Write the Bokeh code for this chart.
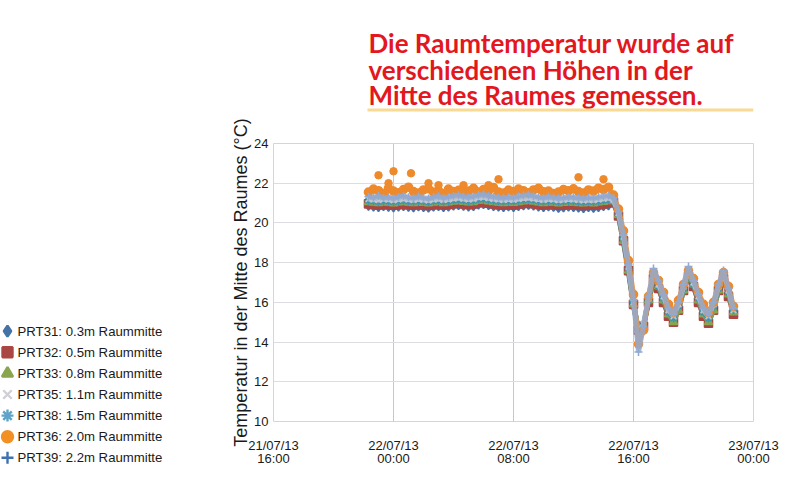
import pandas as pd
from bokeh.plotting import figure
from bokeh.layouts import column, row
from bokeh.models import Range1d, FixedTicker, ColumnDataSource
from bokeh.core.properties import value
from bokeh.embed import file_html
from bokeh.resources import INLINE

# ---------------- data ----------------
series_names = [
    "PRT31: 0.3m Raummitte",
    "PRT32: 0.5m Raummitte",
    "PRT33: 0.8m Raummitte",
    "PRT35: 1.1m Raummitte",
    "PRT38: 1.5m Raummitte",
    "PRT36: 2.0m Raummitte",
    "PRT39: 2.2m Raummitte",
]
series_markers = ["diamond", "square", "triangle", "x", "asterisk", "circle", "cross"]
legend_colors = ["#4572a7", "#aa4643", "#89a54e", "#cfcfd6", "#5ea3c9", "#f39024", "#3f70b0"]
plot_colors = ["#4572a7", "#aa4643", "#89a54e", "#c4c6d0", "#3d96ae", "#ee8a2c", "#93a9cf"]

# measurement times: every 20 minutes from 21/07/13 22:20 to 22/07/13 22:40
t_start = "2013-07-21 22:20"
t_count = 74
t_step = "20min"

prt31 = [20.84, 20.80, 20.77, 20.82, 20.79, 20.76, 20.80, 20.83, 20.79, 20.76,
         20.81, 20.78, 20.75, 20.80, 20.82, 20.77, 20.80, 20.85, 20.88, 20.84,
         20.80, 20.82, 20.90, 20.92, 20.87, 20.83, 20.80, 20.77, 20.81, 20.78,
         20.82, 20.86, 20.89, 20.85, 20.80, 20.77, 20.81, 20.79, 20.74, 20.76,
         20.80, 20.78, 20.75, 20.73, 20.77, 20.74, 20.78, 20.82, 20.86,
         21.00, 20.30, 19.00, 17.50, 15.80, 14.50, 14.80, 16.00, 17.20, 16.70,
         16.00, 15.40, 15.10, 15.70, 16.60, 17.30, 16.80, 16.00, 15.40, 15.10,
         15.70, 16.60, 17.20, 16.40, 15.50]
prt32 = [20.96, 20.93, 20.90, 20.94, 20.92, 20.89, 20.93, 20.95, 20.92, 20.90,
         20.94, 20.91, 20.88, 20.92, 20.95, 20.90, 20.93, 20.97, 21.00, 20.96,
         20.93, 20.95, 21.02, 21.04, 20.99, 20.95, 20.92, 20.90, 20.93, 20.91,
         20.95, 20.98, 21.01, 20.97, 20.93, 20.90, 20.94, 20.92, 20.89, 20.91,
         20.94, 20.92, 20.90, 20.88, 20.91, 20.89, 20.93, 20.96, 21.00,
         21.05, 20.35, 19.10, 17.60, 15.90, 14.60, 14.80, 16.00, 17.20, 16.70,
         16.00, 15.30, 15.00, 15.60, 16.60, 17.30, 16.80, 16.00, 15.30, 14.95,
         15.60, 16.60, 17.20, 16.30, 15.40]
prt33 = [21.05, 21.02, 21.00, 21.04, 21.02, 20.99, 21.03, 21.05, 21.02, 21.00,
         21.04, 21.01, 20.98, 21.02, 21.05, 21.00, 21.03, 21.07, 21.10, 21.06,
         21.03, 21.05, 21.12, 21.14, 21.09, 21.05, 21.02, 21.00, 21.03, 21.01,
         21.05, 21.08, 21.11, 21.07, 21.03, 21.00, 21.04, 21.02, 20.99, 21.01,
         21.04, 21.02, 21.00, 20.98, 21.01, 20.99, 21.03, 21.06, 21.10,
         21.10, 20.40, 19.10, 17.60, 15.90, 14.60, 14.80, 16.10, 17.30, 16.80,
         16.10, 15.40, 15.00, 15.60, 16.60, 17.40, 16.90, 16.10, 15.40, 15.00,
         15.60, 16.60, 17.30, 16.40, 15.50]
prt35 = [21.20, 21.17, 21.15, 21.19, 21.17, 21.14, 21.18, 21.21, 21.17, 21.15,
         21.19, 21.16, 21.13, 21.17, 21.20, 21.15, 21.18, 21.22, 21.25, 21.21,
         21.18, 21.20, 21.27, 21.29, 21.24, 21.20, 21.17, 21.15, 21.18, 21.16,
         21.20, 21.23, 21.26, 21.22, 21.18, 21.15, 21.19, 21.17, 21.14, 21.16,
         21.19, 21.17, 21.15, 21.13, 21.16, 21.14, 21.18, 21.21, 21.25,
         21.15, 20.50, 19.30, 17.80, 16.00, 14.40, 14.90, 16.20, 17.50, 16.90,
         16.30, 15.60, 15.30, 15.90, 16.80, 17.60, 17.00, 16.30, 15.60, 15.30,
         15.90, 16.80, 17.50, 16.60, 15.60]
prt38 = [21.12, 21.09, 21.07, 21.11, 21.09, 21.06, 21.10, 21.13, 21.09, 21.07,
         21.11, 21.08, 21.05, 21.09, 21.12, 21.07, 21.10, 21.14, 21.17, 21.13,
         21.10, 21.12, 21.19, 21.21, 21.16, 21.12, 21.09, 21.07, 21.10, 21.08,
         21.12, 21.15, 21.18, 21.14, 21.10, 21.07, 21.11, 21.09, 21.06, 21.08,
         21.11, 21.09, 21.07, 21.05, 21.08, 21.06, 21.10, 21.13, 21.17,
         21.10, 20.45, 19.20, 17.70, 16.00, 14.50, 14.90, 16.10, 17.40, 16.80,
         16.20, 15.50, 15.20, 15.80, 16.70, 17.50, 16.90, 16.20, 15.50, 15.20,
         15.80, 16.70, 17.40, 16.50, 15.60]
prt36 = [21.55, 21.70, 21.62, 21.48, 21.75, 21.60, 21.52, 21.68, 21.80, 21.58,
         21.50, 21.66, 21.72, 21.55, 21.62, 21.47, 21.70, 21.58, 21.64, 21.52,
         21.60, 21.74, 21.56, 21.68, 21.62, 21.78, 21.55, 21.50, 21.65, 21.58,
         21.70, 21.62, 21.52, 21.66, 21.74, 21.57, 21.60, 21.48, 21.55, 21.68,
         21.62, 21.72, 21.58, 21.50, 21.66, 21.60, 21.75, 21.68, 21.80,
         21.40, 20.70, 19.60, 18.10, 16.40, 13.90, 14.60, 16.30, 17.50, 17.10,
         16.50, 15.90, 15.50, 16.10, 16.90, 17.60, 17.20, 16.50, 15.90, 15.50,
         16.00, 16.90, 17.50, 16.80, 15.80]
prt39 = [21.32, 21.28, 21.35, 21.26, 21.30, 21.24, 21.31, 21.36, 21.29, 21.25,
         21.33, 21.27, 21.23, 21.30, 21.34, 21.26, 21.31, 21.37, 21.40, 21.33,
         21.29, 21.34, 21.41, 21.43, 21.36, 21.32, 21.28, 21.25, 21.31, 21.27,
         21.34, 21.38, 21.42, 21.35, 21.30, 21.26, 21.32, 21.28, 21.24, 21.27,
         21.31, 21.29, 21.26, 21.23, 21.28, 21.25, 21.30, 21.34, 21.38,
         21.25, 20.55, 19.40, 17.90, 16.10, 13.50, 14.80, 16.30, 17.70, 17.10,
         16.40, 15.70, 15.40, 16.00, 16.90, 17.80, 17.10, 16.40, 15.70, 15.40,
         16.00, 16.90, 17.60, 16.70, 15.70]

# single high readings of PRT36 (2.0m)
prt36_peak_times = ["2013-07-21 23:00", "2013-07-21 23:40", "2013-07-22 00:00",
                    "2013-07-22 01:10", "2013-07-22 02:20", "2013-07-22 03:00",
                    "2013-07-22 04:40", "2013-07-22 06:20", "2013-07-22 07:00",
                    "2013-07-22 12:20", "2013-07-22 14:00"]
prt36_peak_vals = [22.4, 22.0, 22.6, 22.5, 22.0, 21.9, 21.9, 21.9, 22.2, 22.3, 22.2]

x_ticks = ["2013-07-21 16:00", "2013-07-22 00:00", "2013-07-22 08:00",
           "2013-07-22 16:00", "2013-07-23 00:00"]
x_tick_labels = ["21/07/13\n16:00", "22/07/13\n00:00", "22/07/13\n08:00",
                 "22/07/13\n16:00", "23/07/13\n00:00"]
y_ticks = [10, 12, 14, 16, 18, 20, 22, 24]

title_lines = ["Die Raumtemperatur wurde auf",
               "verschiedenen Höhen in der",
               "Mitte des Raumes gemessen."]
y_label = "Temperatur in der Mitte des Raumes (°C)"

# ---------------- helpers ----------------
def ms(s):
    return int(pd.Timestamp(s).value // 10**6)

times = [int(t.value // 10**6) for t in pd.date_range(t_start, periods=t_count, freq=t_step)]
all_series = [prt31, prt32, prt33, prt35, prt38, prt36, prt39]
tick_ms = [ms(t) for t in x_ticks]

FONT = "Liberation Sans"
LEG_W = 200
RIGHT_W = 600
TITLE_H = 112
FRAME_L, FRAME_R = 73, 47

def bare(fig):
    fig.outline_line_color = None
    fig.background_fill_color = "white"
    fig.border_fill_color = "white"
    return fig

# ---------------- legend panel (left) ----------------
lg = bare(figure(width=LEG_W, height=497, x_range=Range1d(0, LEG_W), y_range=Range1d(0, 497),
                 output_backend="svg", toolbar_location=None, min_border=0,
                 x_axis_type=None, y_axis_type=None))
row_top, row_step = 166.3, 21.1
leg_y = [row_top - i * row_step for i in range(len(series_names))]
lsrc = ColumnDataSource(dict(x=[7] * len(leg_y), y=leg_y, m=series_markers, c=legend_colors,
                             s=[11, 10, 11, 12, 12, 11, 12], t=series_names))
lg.scatter("x", "y", source=lsrc, marker="m", size="s", fill_color="c", line_color="c",
           line_width=2.4)
lg.text(x=17, y="y", text="t", source=lsrc, text_baseline="middle",
        text_font=value(FONT), text_font_size="13.2px", text_color="#1a1a1a")

# ---------------- title panel ----------------
tp = bare(figure(width=RIGHT_W, height=TITLE_H, x_range=Range1d(0, 480),
                 y_range=Range1d(0, TITLE_H),
                 output_backend="svg", toolbar_location=None,
                 min_border_left=FRAME_L, min_border_right=FRAME_R, min_border_top=0,
                 min_border_bottom=0, x_axis_type=None, y_axis_type=None))
tp.text(x=[95] * 3, y=[70, 43, 17.5], text=title_lines, text_font=value("Lato"),
        text_font_style="bold", text_font_size="26px", text_color="#e3171e",
        text_baseline="alphabetic")
tp.quad(left=[94], right=[480], bottom=[1], top=[4], fill_color="#f9da94",
        line_color=None)

# ---------------- main chart ----------------
p = figure(width=RIGHT_W, height=497 - TITLE_H, x_axis_type="datetime",
           x_range=Range1d(tick_ms[0], tick_ms[-1]), y_range=Range1d(10, 24),
           output_backend="svg", toolbar_location=None,
           min_border_left=FRAME_L, min_border_right=FRAME_R, min_border_top=143 - TITLE_H,
           min_border_bottom=76)
p.background_fill_color = "white"
p.border_fill_color = "white"
p.outline_line_color = "#d4d4dc"
p.xgrid.grid_line_color = "#c6c6d2"
p.ygrid.grid_line_color = "#dcdce2"
p.xaxis.ticker = FixedTicker(ticks=tick_ms)
p.xaxis.major_label_overrides = {t: lab for t, lab in zip(tick_ms, x_tick_labels)}
p.yaxis.ticker = FixedTicker(ticks=y_ticks)
for ax in (p.xaxis, p.yaxis):
    ax.axis_line_color = None
    ax.major_tick_line_color = None
    ax.minor_tick_line_color = None
    ax.major_tick_out = 0
    ax.major_tick_in = 0
    ax.minor_tick_out = 0
    ax.major_label_text_font = FONT
    ax.major_label_text_font_size = "13px"
    ax.major_label_text_color = "#1a1a1a"
p.xaxis.major_label_text_line_height = 0.9
p.xaxis.major_label_standoff = 16
p.yaxis.major_label_standoff = 5
p.yaxis.axis_label = y_label
p.yaxis.axis_label_text_font = FONT
p.yaxis.axis_label_text_font_size = "18px"
p.yaxis.axis_label_text_font_style = "normal"
p.yaxis.axis_label_text_color = "#1a1a1a"
p.yaxis.axis_label_standoff = 0

draw_order = [0, 1, 2, 4, 3, 5, 6]
for k in draw_order:
    vals = all_series[k]
    col = plot_colors[k]
    p.line(times, vals, line_color=col, line_width=5, line_alpha=0.85)
    src = ColumnDataSource(dict(x=times, y=vals))
    p.scatter("x", "y", source=src, marker=series_markers[k], size=8,
              fill_color=col, line_color=col, line_width=1.6)
    if k == 5:
        p.scatter([ms(t) for t in prt36_peak_times], prt36_peak_vals, marker="circle",
                  size=7.5, fill_color=col, line_color=col)

layout = row(lg, column(tp, p))
open("out.html", "w").write(file_html(layout, INLINE))
